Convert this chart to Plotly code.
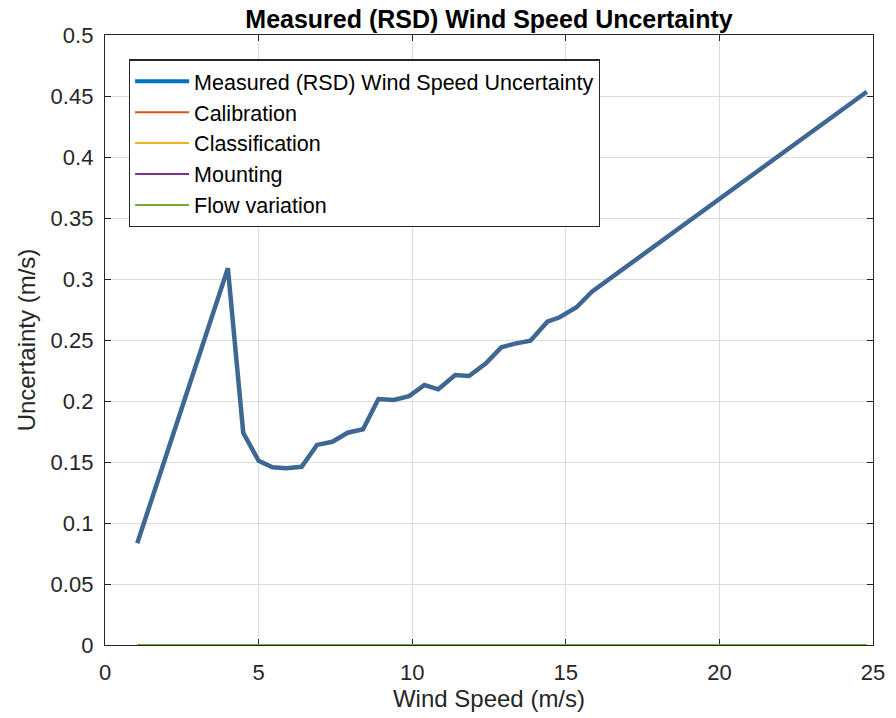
import plotly.graph_objects as go

wind_speed = [1.05, 4.0, 4.5, 5.0, 5.45, 5.9, 6.4, 6.9, 7.4, 7.9, 8.4, 8.9, 9.4, 9.9,
              10.4, 10.85, 11.4, 11.85, 12.4, 12.9, 13.35, 13.85, 14.4, 14.8, 15.35, 15.85, 24.8]
measured = [0.0834, 0.3088, 0.174, 0.151, 0.1457, 0.1448, 0.1461, 0.164, 0.1666, 0.174,
            0.1768, 0.2016, 0.2008, 0.204, 0.2131, 0.2096, 0.2213, 0.2205, 0.2309, 0.244,
            0.247, 0.2494, 0.265, 0.2686, 0.2768, 0.2896, 0.4535]
calibration = [0.0] * len(wind_speed)
classification = [0.0] * len(wind_speed)
mounting = [0.0] * len(wind_speed)
flow_variation = [0.0] * len(wind_speed)

x_ticks = [0, 5, 10, 15, 20, 25]
y_ticks = [0, 0.05, 0.1, 0.15, 0.2, 0.25, 0.3, 0.35, 0.4, 0.45, 0.5]
y_tick_labels = ["0", "0.05", "0.1", "0.15", "0.2", "0.25", "0.3", "0.35", "0.4", "0.45", "0.5"]

FONT = "Liberation Sans, Arial, sans-serif"

fig = go.Figure()
# visible main curve (no legend entry)
fig.add_trace(go.Scatter(x=wind_speed, y=measured, mode="lines",
                         line=dict(color="#3E6893", width=4.5),
                         showlegend=False, hoverinfo="x+y"))
# legend entry for the main curve
fig.add_trace(go.Scatter(x=[None], y=[None], mode="lines",
                         name="Measured (RSD) Wind Speed Uncertainty",
                         line=dict(color="#0072BD", width=4)))
for name, vals, col in [("Calibration", calibration, "#D95319"),
                        ("Classification", classification, "#EDB120"),
                        ("Mounting", mounting, "#7E2F8E"),
                        ("Flow variation", flow_variation, "#77AC30")]:
    fig.add_trace(go.Scatter(x=wind_speed, y=vals, mode="lines", name=name,
                             line=dict(color=col, width=2)))

axis_common = dict(showline=True, linecolor="#262626", linewidth=1.3, mirror="ticks",
                   ticks="inside", ticklen=6, tickcolor="#262626", tickwidth=1.3,
                   showgrid=True, gridcolor="#DCDCDC", gridwidth=1,
                   zeroline=False, layer="below traces",
                   tickfont=dict(family=FONT, size=22, color="#262626"))

fig.update_layout(
    width=896, height=718,
    margin=dict(l=105, r=23, t=35, b=73),
    paper_bgcolor="white", plot_bgcolor="white",
    font=dict(family=FONT, color="#262626"),
    title=dict(text="<b>Measured (RSD) Wind Speed Uncertainty</b>",
               x=0.5, xref="paper", xanchor="center", y=0.973, yanchor="middle",
               font=dict(family=FONT, size=25, color="black")),
    xaxis=dict(range=[0, 25], tickvals=x_ticks, ticktext=[str(v) for v in x_ticks],
               title=dict(text="Wind Speed (m/s)", font=dict(family=FONT, size=24, color="#262626"),
                          standoff=2),
               ticklabelstandoff=7, **axis_common),
    yaxis=dict(range=[0, 0.5], tickvals=y_ticks, ticktext=y_tick_labels,
               title=dict(text="Uncertainty (m/s)", font=dict(family=FONT, size=24, color="#262626"),
                          standoff=8),
               ticklabelstandoff=6, **axis_common),
    legend=dict(x=0.031, y=0.96, xanchor="left", yanchor="top",
                bgcolor="white", bordercolor="#262626", borderwidth=1.3,
                font=dict(family=FONT, size=21.5, color="black"),
                itemwidth=54, tracegroupgap=0),
)

fig.write_html("out.html")
